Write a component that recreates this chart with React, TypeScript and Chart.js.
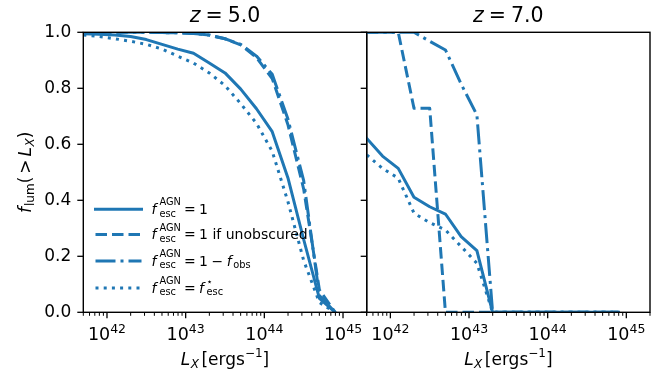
import React, { useEffect, useRef } from "react";
import { Chart, registerables } from "chart.js";

Chart.register(...registerables);

// log10 of the X-ray luminosity bins (erg/s)
const LOG_LX = [41.7, 41.9, 42.1, 42.3, 42.5, 42.7, 42.9, 43.1, 43.3, 43.5, 43.7, 43.9, 44.1, 44.3, 44.5, 44.7, 44.9];

// z = 5.0: fraction of luminosity above L_X
const Z5_ESC_ONE = [0.995, 0.993, 0.99, 0.985, 0.974, 0.957, 0.94, 0.925, 0.89, 0.855, 0.797, 0.727, 0.645, 0.48, 0.26, 0.05, 0.0];
const Z5_UNOBSCURED = [1.0, 1.0, 1.0, 1.0, 1.0, 0.999, 0.998, 0.996, 0.99, 0.977, 0.955, 0.91, 0.835, 0.67, 0.44, 0.08, 0.0];
const Z5_ONE_MINUS_FOBS = [1.0, 1.0, 1.0, 1.0, 1.0, 0.999, 0.998, 0.996, 0.99, 0.977, 0.957, 0.915, 0.85, 0.69, 0.47, 0.06, 0.0];
const Z5_FESC_STAR = [0.99, 0.985, 0.977, 0.968, 0.957, 0.94, 0.915, 0.89, 0.855, 0.81, 0.745, 0.675, 0.575, 0.395, 0.185, 0.035, 0.0];

// z = 7.0
const Z7_ESC_ONE = [0.621, 0.558, 0.514, 0.411, 0.377, 0.351, 0.27, 0.22, 0, 0, 0, 0, 0, 0, 0, 0, 0];
const Z7_UNOBSCURED = [1.0, 1.0, 1.0, 0.729, 0.729, 0, 0, 0, 0, 0, 0, 0, 0, 0, 0, 0, 0];
const Z7_ONE_MINUS_FOBS = [1.0, 1.0, 1.0, 1.0, 0.968, 0.937, 0.815, 0.705, 0, 0, 0, 0, 0, 0, 0, 0, 0];
const Z7_FESC_STAR = [0.562, 0.514, 0.479, 0.354, 0.32, 0.294, 0.235, 0.175, 0, 0, 0, 0, 0, 0, 0, 0, 0];

const REDSHIFTS = ["5.0", "7.0"];
const X_MIN = 5e41;
const X_MAX = 2e45;
const X_MAJOR_EXPONENTS = [42, 43, 44, 45];
const Y_TICKS = [0, 0.2, 0.4, 0.6, 0.8, 1.0];

const BLUE = "#1f77b4";
const FONT = '"DejaVu Sans"';
const W = 670;
const H = 376;
const PLOT_TOP = 32.3;
const PLOT_BOTTOM = 312.3;

type LineStyle = { dash: number[]; cap: CanvasLineCap };
const STYLES: LineStyle[] = [
  { dash: [], cap: "square" },
  { dash: [11.5, 5], cap: "butt" },
  { dash: [20, 5, 3, 5], cap: "butt" },
  { dash: [3, 5.2], cap: "butt" },
];

type Seg =
  | { t: string; size: number; it?: boolean; dy?: number; pad?: number }
  | { sup: Seg; sub: Seg; pad?: number };

function setFont(ctx: CanvasRenderingContext2D, size: number, it?: boolean) {
  ctx.font = `${it ? "italic " : ""}${size}px ${FONT}`;
}

function segWidth(ctx: CanvasRenderingContext2D, s: Seg): number {
  if ("sup" in s) return Math.max(segWidth(ctx, s.sup), segWidth(ctx, s.sub)) + (s.pad ?? 0);
  setFont(ctx, s.size, s.it);
  return ctx.measureText(s.t).width + (s.pad ?? 0);
}

function drawOne(ctx: CanvasRenderingContext2D, s: Seg, x: number, base: number) {
  if ("sup" in s) {
    drawOne(ctx, s.sup, x, base);
    drawOne(ctx, s.sub, x, base);
    return;
  }
  setFont(ctx, s.size, s.it);
  ctx.fillText(s.t, x, base + (s.dy ?? 0));
}

function drawSegs(ctx: CanvasRenderingContext2D, segs: Seg[], x: number, base: number, center: boolean) {
  ctx.textAlign = "left";
  ctx.textBaseline = "alphabetic";
  ctx.fillStyle = "#000";
  const total = segs.reduce((a, s) => a + segWidth(ctx, s), 0);
  let cx = center ? x - total / 2 : x;
  for (const s of segs) {
    drawOne(ctx, s, cx, base);
    cx += segWidth(ctx, s);
  }
}

// f_esc^AGN with stacked super/subscript
function fescAGN(): Seg[] {
  return [
    { t: "f", size: 14, it: true, pad: 3 },
    { sup: { t: "AGN", size: 9.8, dy: -8.6 }, sub: { t: "esc", size: 9.8, dy: 2.6 }, pad: 3 },
  ];
}

const LEGEND_ROWS: Seg[][] = [
  [...fescAGN(), { t: "=", size: 14, pad: 3.5 }, { t: "1", size: 14 }],
  [...fescAGN(), { t: "=", size: 14, pad: 3.5 }, { t: "1 if unobscured", size: 14 }],
  [
    ...fescAGN(),
    { t: "=", size: 14, pad: 3.5 },
    { t: "1", size: 14, pad: 3.5 },
    { t: "\u2212", size: 14, pad: 3.5 },
    { t: "f", size: 14, it: true, pad: 1.5 },
    { t: "obs", size: 9.8, dy: 2.6 },
  ],
  [
    ...fescAGN(),
    { t: "=", size: 14, pad: 3.5 },
    { t: "f", size: 14, it: true, pad: 2.5 },
    { sup: { t: "\u22c6", size: 9.8, dy: -7.5 }, sub: { t: "esc", size: 9.8, dy: 2.6 } },
  ],
];
const LEGEND_ROW_Y = [209.3, 234.5, 261, 288];

type PanelCfg = {
  z: string;
  series: number[][];
  left: number;
  right: number;
  main: boolean;
};

const PANELS: PanelCfg[] = [
  { z: REDSHIFTS[0], series: [Z5_ESC_ONE, Z5_UNOBSCURED, Z5_ONE_MINUS_FOBS, Z5_FESC_STAR], left: 83.3, right: 366.7, main: true },
  { z: REDSHIFTS[1], series: [Z7_ESC_ONE, Z7_UNOBSCURED, Z7_ONE_MINUS_FOBS, Z7_FESC_STAR], left: 366.7, right: 650, main: false },
];

function decorPlugin(cfg: PanelCfg) {
  return {
    id: "panelDecor",
    afterDraw(chart: any) {
      const ctx: CanvasRenderingContext2D = chart.ctx;
      const ca = chart.chartArea;
      const xs = chart.scales.x;
      const ys = chart.scales.y;
      ctx.save();
      ctx.strokeStyle = "#000";
      ctx.lineCap = "butt";

      // x ticks, major and minor
      for (let e = 41; e <= 45; e++) {
        for (let k = 1; k <= 9; k++) {
          const v = k * Math.pow(10, e);
          if (v < X_MIN * 0.999 || v > X_MAX * 1.001) continue;
          const px = xs.getPixelForValue(v);
          const major = k === 1;
          ctx.lineWidth = major ? 1.3 : 1.0;
          ctx.beginPath();
          ctx.moveTo(px, ca.bottom);
          ctx.lineTo(px, ca.bottom + (major ? 6 : 3.5));
          ctx.stroke();
        }
      }
      // y ticks on the left spine
      ctx.lineWidth = 1.3;
      for (const t of Y_TICKS) {
        const py = ys.getPixelForValue(t);
        ctx.beginPath();
        ctx.moveTo(ca.left - 6, py);
        ctx.lineTo(ca.left, py);
        ctx.stroke();
      }
      // frame
      ctx.lineWidth = 1.4;
      ctx.strokeRect(ca.left, ca.top, ca.right - ca.left, ca.bottom - ca.top);

      // x tick labels 10^n
      for (const e of X_MAJOR_EXPONENTS) {
        const px = xs.getPixelForValue(Math.pow(10, e));
        drawSegs(ctx, [{ t: "10", size: 17.5 }, { t: String(e), size: 12.5, dy: -7 }], px, 339.5, true);
      }

      const cx = (ca.left + ca.right) / 2;
      // title
      drawSegs(ctx, [{ t: "z", size: 20.5, it: true, pad: 5 }, { t: "=", size: 20.5, pad: 5 }, { t: cfg.z, size: 20.5 }], cx, 21.7, true);
      // x axis label
      drawSegs(
        ctx,
        [
          { t: "L", size: 17, it: true, pad: 0.5 },
          { t: "X", size: 12, it: true, dy: 3.8, pad: 2.5 },
          { t: "[ergs", size: 17 },
          { t: "\u22121", size: 12, dy: -7.5 },
          { t: "]", size: 17 },
        ],
        cx,
        364.5,
        true
      );

      if (cfg.main) {
        // y axis label
        ctx.save();
        ctx.translate(30.5, (ca.top + ca.bottom) / 2);
        ctx.rotate(-Math.PI / 2);
        drawSegs(
          ctx,
          [
            { t: "f", size: 17, it: true, pad: 1 },
            { t: "lum", size: 12, dy: 3.8 },
            { t: "(", size: 17, pad: 3 },
            { t: ">", size: 17, pad: 3 },
            { t: "L", size: 17, it: true, pad: 0.5 },
            { t: "X", size: 12, it: true, dy: 3.8 },
            { t: ")", size: 17 },
          ],
          0,
          0,
          true
        );
        ctx.restore();

        // legend
        LEGEND_ROWS.forEach((row, i) => {
          const y = LEGEND_ROW_Y[i];
          const st = STYLES[i];
          ctx.save();
          ctx.strokeStyle = BLUE;
          ctx.lineWidth = 3;
          ctx.lineCap = st.cap;
          ctx.setLineDash(st.dash);
          ctx.beginPath();
          ctx.moveTo(95.5, y);
          ctx.lineTo(141.5, y);
          ctx.stroke();
          ctx.restore();
          drawSegs(ctx, row, 151.5, y + 4.6, false);
        });
      }
      ctx.restore();
    },
  };
}

function buildConfig(cfg: PanelCfg): any {
  const yScale: any = {
    type: "linear",
    min: 0,
    max: 1,
    display: cfg.main,
    afterBuildTicks: (s: any) => {
      s.ticks = Y_TICKS.map((v) => ({ value: v }));
    },
    ticks: {
      callback: (v: any) => Number(v).toFixed(1),
      font: { family: "DejaVu Sans", size: 17 },
      color: "#000",
      padding: 12,
    },
    grid: { display: false, drawTicks: false },
    border: { display: false },
  };
  if (cfg.main) {
    yScale.afterFit = (s: any) => {
      s.width = cfg.left;
    };
  }
  return {
    type: "line",
    data: {
      datasets: cfg.series.map((vals, i) => ({
        data: LOG_LX.map((lx, j) => ({ x: Math.pow(10, lx), y: vals[j] })),
        borderColor: BLUE,
        borderWidth: 3,
        borderDash: STYLES[i].dash,
        borderCapStyle: STYLES[i].cap,
        borderJoinStyle: "round",
        pointRadius: 0,
        tension: 0,
        fill: false,
        clip: 0,
        order: 4 - i,
      })),
    },
    options: {
      responsive: false,
      animation: false,
      devicePixelRatio: 1,
      events: [],
      layout: {
        padding: {
          left: cfg.main ? 0 : cfg.left,
          right: W - cfg.right,
          top: PLOT_TOP,
          bottom: H - PLOT_BOTTOM,
        },
      },
      plugins: {
        legend: { display: false },
        tooltip: { enabled: false },
        title: { display: false },
      },
      scales: {
        x: { type: "logarithmic", min: X_MIN, max: X_MAX, bounds: "data", display: false },
        y: yScale,
      },
    },
    plugins: [decorPlugin(cfg)],
  };
}

function Panel({ cfg }: { cfg: PanelCfg }) {
  const ref = useRef<HTMLCanvasElement>(null);
  useEffect(() => {
    const chart = new Chart(ref.current as HTMLCanvasElement, buildConfig(cfg));
    return () => chart.destroy();
  }, [cfg]);
  return (
    <canvas
      ref={ref}
      width={W}
      height={H}
      style={{ position: "absolute", left: 0, top: 0, width: W, height: H }}
    />
  );
}

export default function App() {
  return (
    <div style={{ position: "fixed", left: 0, top: 0, width: W, height: H, background: "#fff", overflow: "hidden" }}>
      {PANELS.map((p, i) => (
        <Panel key={i} cfg={p} />
      ))}
    </div>
  );
}
